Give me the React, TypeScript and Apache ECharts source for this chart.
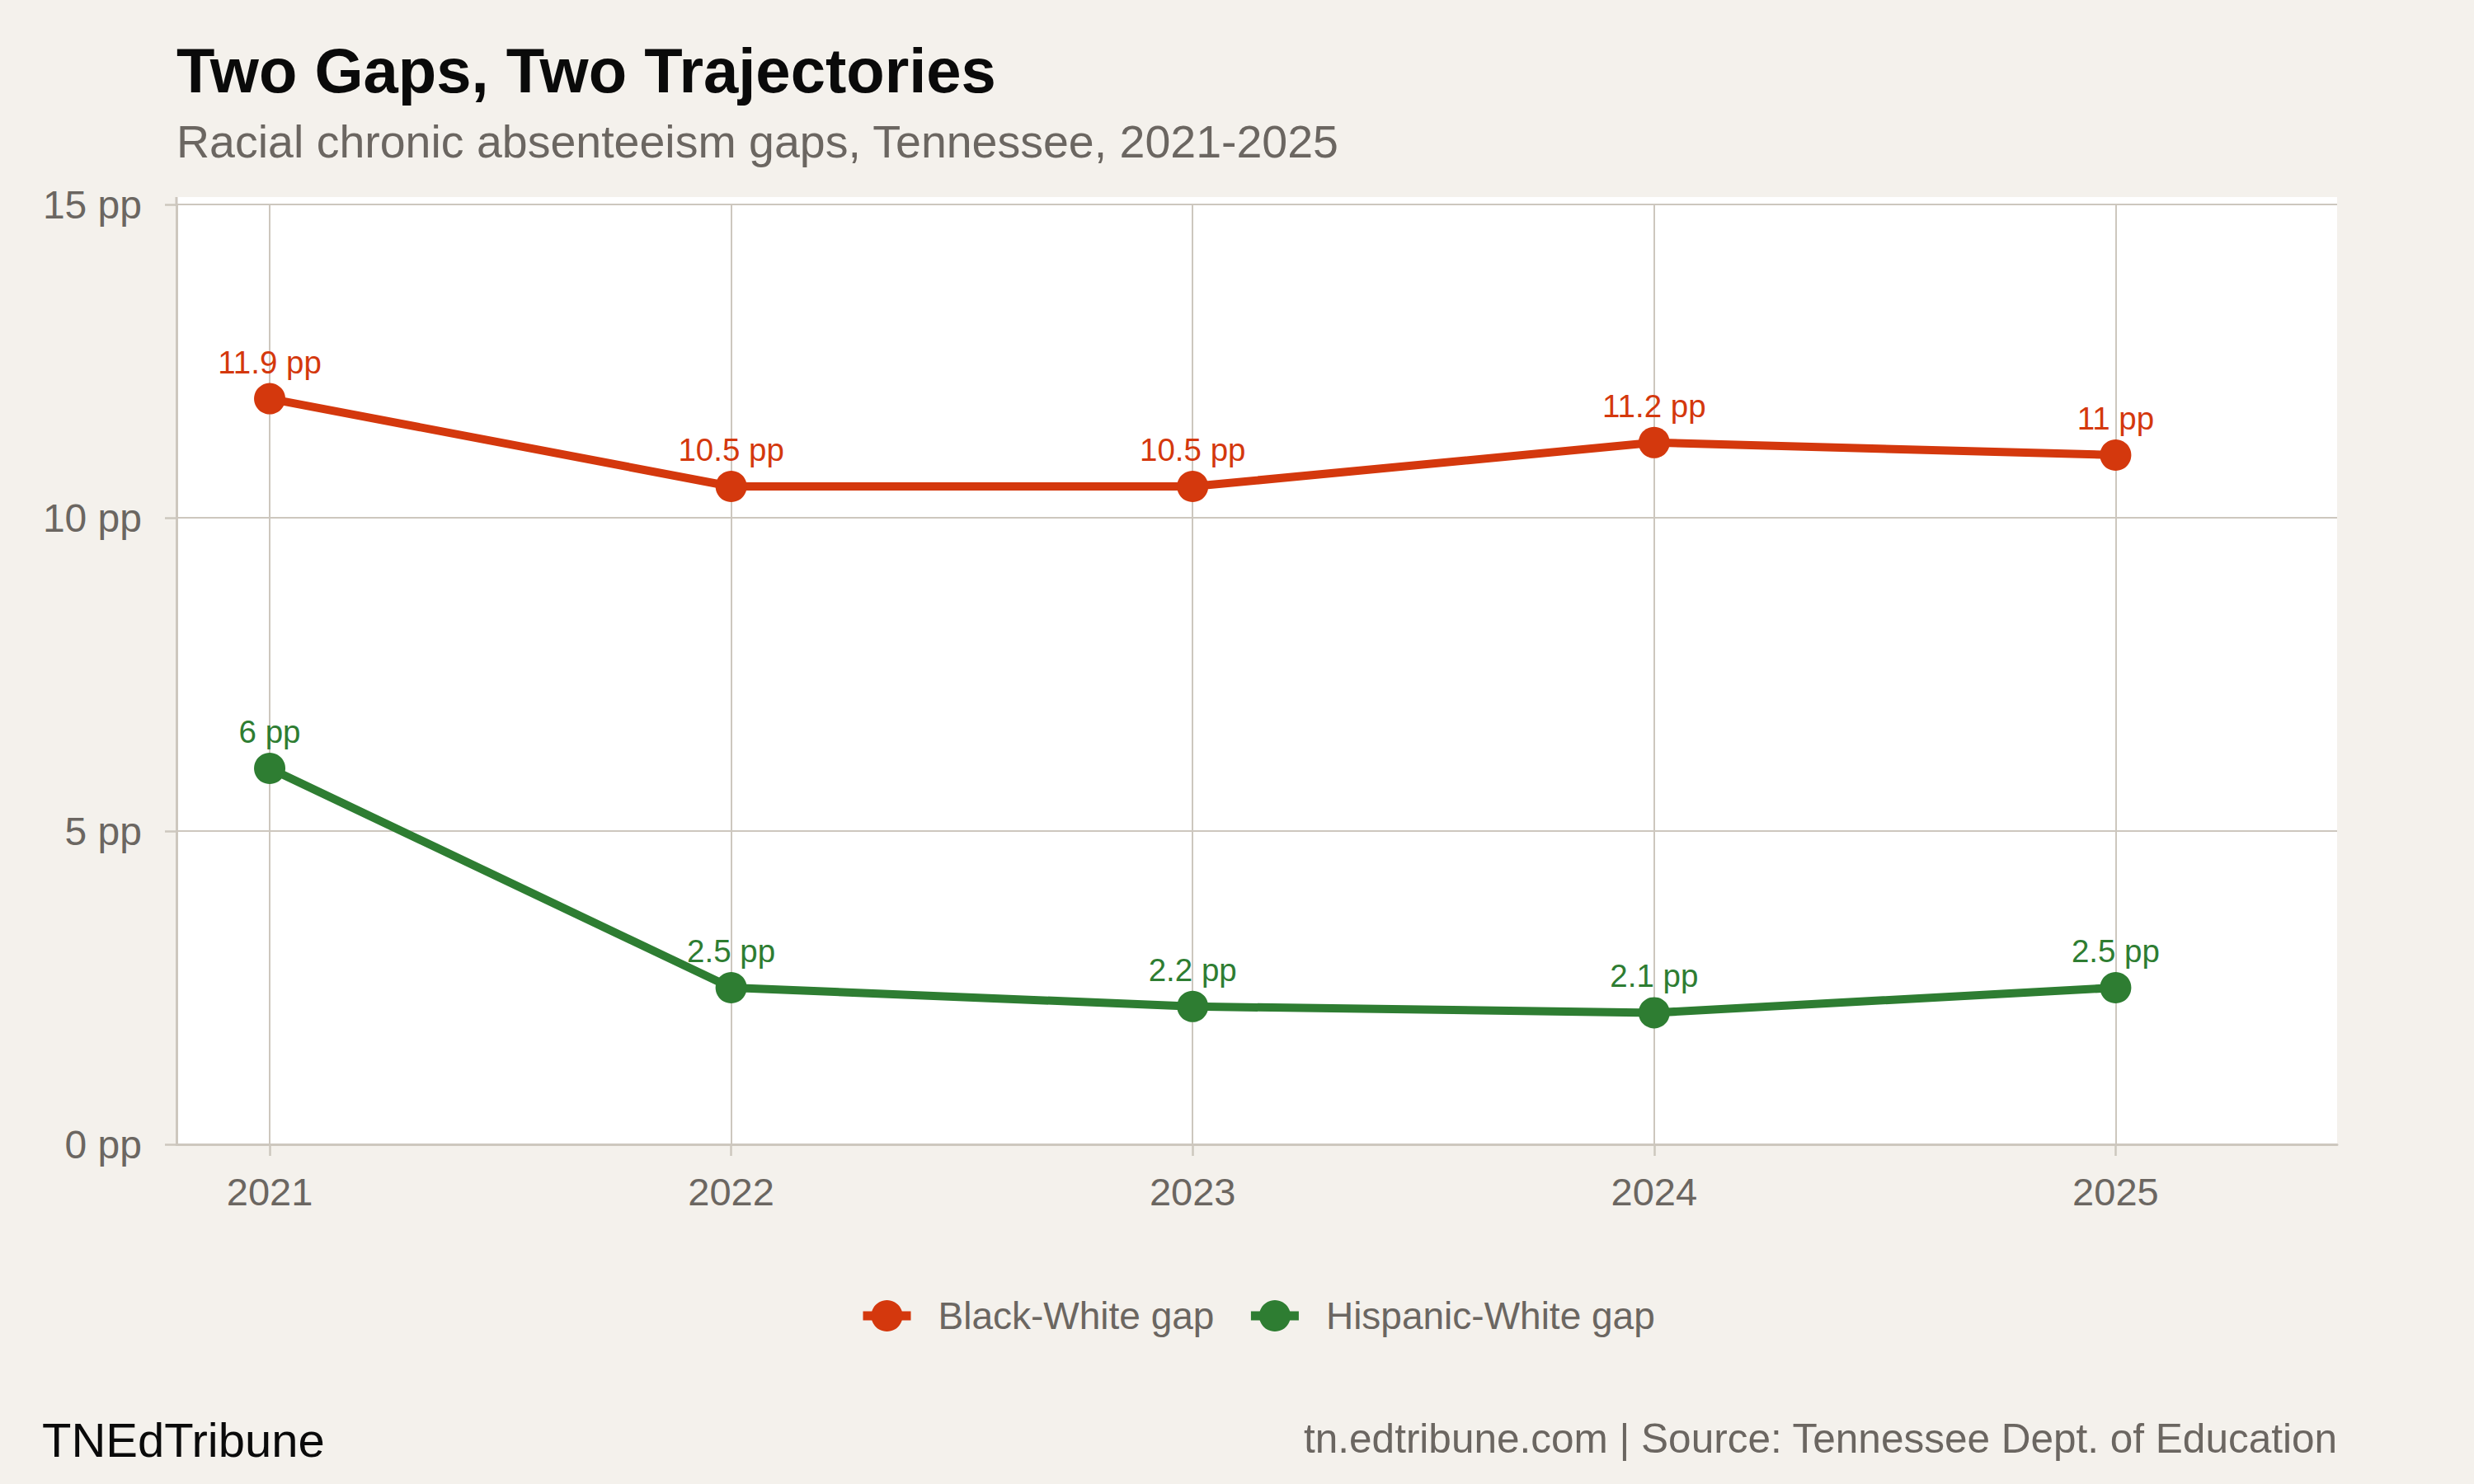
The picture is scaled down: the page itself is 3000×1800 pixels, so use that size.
import React, { useEffect, useRef } from "react";
import * as echarts from "echarts";

const years = [2021, 2022, 2023, 2024, 2025];
const blackWhite = [11.9, 10.5, 10.5, 11.2, 11.0];
const hispanicWhite = [6.0, 2.5, 2.2, 2.1, 2.5];
const seriesNames = ["Black-White gap", "Hispanic-White gap"];
const yTicks = [0, 5, 10, 15];

const FONT = "'Liberation Sans', Arial, Helvetica, sans-serif";
const BG = "#f4f1ec";
const GRID = "#cdc7be";
const GRAY = "#6b6661";
const RED = "#d4380d";
const GREEN = "#2e7d32";

export default function App() {
  const ref = useRef<HTMLDivElement>(null);
  useEffect(() => {
    document.body.style.margin = "0";
    const chart = echarts.init(ref.current!, null, { renderer: "svg" });
    const mk = (vals: number[]) => years.map((y, i) => [y, vals[i]]);
    const lineSeries = (name: string, vals: number[], color: string) => ({
      name,
      type: "line",
      data: mk(vals),
      symbol: "circle",
      symbolSize: 38,
      color,
      lineStyle: { width: 10, color },
      itemStyle: { color },
      z: 5,
      label: {
        show: true,
        position: "top",
        distance: 6,
        fontFamily: FONT,
        fontSize: 38.5,
        color,
        formatter: (p: any) => `${p.value[1]} pp`,
      },
    });
    chart.setOption({
      animation: false,
      backgroundColor: BG,
      textStyle: { fontFamily: FONT },
      grid: { left: 214, right: 166, top: 248, bottom: 412, containLabel: false },
      xAxis: {
        type: "value",
        min: 2020.798,
        max: 2025.48,
        axisLine: { show: true, lineStyle: { color: GRID, width: 3 } },
        axisTick: { show: true, length: 14, customValues: years, lineStyle: { color: GRID, width: 2.5 } },
        axisLabel: {
          customValues: years,
          margin: 34,
          fontSize: 47,
          color: GRAY,
          fontFamily: FONT,
          formatter: (v: number) => String(v),
        },
        splitLine: { show: true, lineStyle: { color: GRID, width: 2 } },
      },
      yAxis: {
        type: "value",
        min: 0,
        max: 15,
        interval: 5,
        axisLine: { show: true, lineStyle: { color: GRID, width: 3 } },
        axisTick: { show: true, length: 14, lineStyle: { color: GRID, width: 2.5 } },
        axisLabel: {
          margin: 42,
          fontSize: 48,
          color: GRAY,
          fontFamily: FONT,
          formatter: (v: number) => (yTicks.includes(v) ? `${v} pp` : ""),
        },
        splitLine: { show: true, lineStyle: { color: GRID, width: 2 } },
      },
      legend: {
        data: seriesNames,
        left: 1041,
        top: 1573,
        padding: 0,
        orient: "horizontal",
        itemWidth: 58,
        itemHeight: 47.5,
        itemGap: 39,
        lineStyle: { width: 11 },
        textStyle: { fontSize: 46, color: GRAY, fontFamily: FONT, padding: [0, 0, 0, 28] },
      },
      graphic: [
        { type: "rect", z: -100, shape: { x: 214, y: 239, width: 2620, height: 1149 }, style: { fill: "#ffffff" } },
        { type: "line", z: 1, shape: { x1: 214, y1: 239, x2: 214, y2: 250 }, style: { stroke: GRID, lineWidth: 3 } },
        {
          type: "text",
          x: 214,
          y: 85,
          style: { text: "Two Gaps, Two Trajectories", font: `bold 76px ${FONT}`, fill: "#0a0a0a", verticalAlign: "middle", align: "left" },
        },
        {
          type: "text",
          x: 214,
          y: 172,
          style: { text: "Racial chronic absenteeism gaps, Tennessee, 2021-2025", font: `55.5px ${FONT}`, fill: GRAY, verticalAlign: "middle", align: "left" },
        },
        {
          type: "text",
          x: 51,
          y: 1746,
          style: { text: "TNEdTribune", font: `58px ${FONT}`, fill: "#0a0a0a", verticalAlign: "middle", align: "left" },
        },
        {
          type: "text",
          x: 2834,
          y: 1744,
          style: { text: "tn.edtribune.com | Source: Tennessee Dept. of Education", font: `49.5px ${FONT}`, fill: GRAY, verticalAlign: "middle", align: "right" },
        },
      ],
      series: [lineSeries(seriesNames[0], blackWhite, RED), lineSeries(seriesNames[1], hispanicWhite, GREEN)],
    });
    return () => chart.dispose();
  }, []);
  return <div ref={ref} style={{ position: "fixed", left: 0, top: 0, width: 3000, height: 1800 }} />;
}
